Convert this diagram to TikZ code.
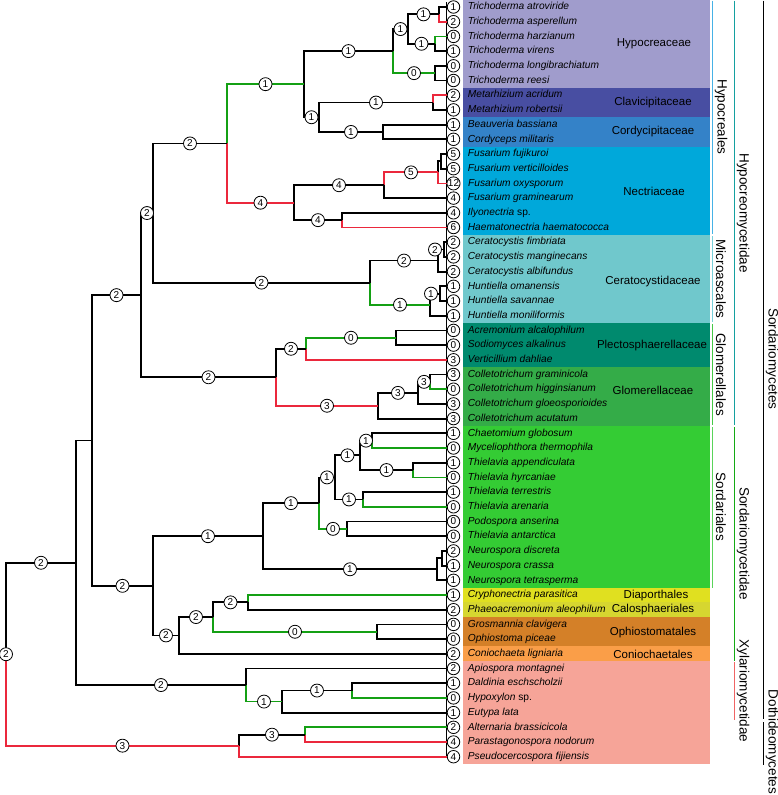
\documentclass[tikz,border=0pt]{standalone}
\usepackage{fontspec}
\setmainfont{Liberation Sans}
\usepackage{tikz}
\usetikzlibrary{positioning}

\definecolor{brgreen}{RGB}{20,160,20}
\definecolor{brred}{RGB}{235,40,60}
\definecolor{hypocol}{RGB}{160,156,204}
\definecolor{clavcol}{RGB}{72,78,162}
\definecolor{cordcol}{RGB}{52,130,200}
\definecolor{nectcol}{RGB}{0,168,218}
\definecolor{cerat}{RGB}{112,200,204}
\definecolor{plectcol}{RGB}{0,138,110}
\definecolor{glomcol}{RGB}{52,172,72}
\definecolor{sordcol}{RGB}{52,204,52}
\definecolor{diapcol}{RGB}{224,224,32}
\definecolor{calocol}{RGB}{214,214,48}
\definecolor{ophcol}{RGB}{212,128,40}
\definecolor{conicol}{RGB}{250,158,72}
\definecolor{xylcol}{RGB}{246,164,152}
\definecolor{hypoline}{RGB}{70,178,230}
\definecolor{micline}{RGB}{120,208,218}
\definecolor{glomline}{RGB}{70,200,70}
\definecolor{sordline}{RGB}{90,212,90}
\definecolor{hmline}{RGB}{20,160,160}
\definecolor{smline}{RGB}{20,170,20}
\definecolor{xmline}{RGB}{240,100,100}

\begin{document}
\begin{tikzpicture}[
    x=1pt, y=-1pt,
    branch/.style={line width=1.8pt, color=black},
    gain/.style={branch, color=brgreen},
    loss/.style={branch, color=brred},
    num/.style={circle, color=black, draw=black, text=black, fill=white, line width=0.8pt, inner sep=0pt, minimum size=13pt, font=\fontsize{10}{10}\selectfont},
    leafnum/.style={num, minimum size=12.5pt},
    taxon/.style={inner sep=0pt, text height=7.5pt, text depth=2pt, font=\fontsize{10.2}{12}\selectfont\itshape},
    family/.style={font=\fontsize{11.5}{13}\selectfont},
    rankline/.style={line width=1.6pt},
    rank/.style={rotate=-90, font=\fontsize{13.5}{15}\selectfont}
]
\useasboundingbox (0,0) rectangle (778,795);

% Family bands
\fill[hypocol] (463,0) rectangle (710,87.85);
\fill[clavcol] (463,87.85) rectangle (710,117.25);
\fill[cordcol] (463,117.25) rectangle (710,146.65);
\fill[nectcol] (463,146.65) rectangle (710,234.85);
\fill[cerat] (463,234.85) rectangle (710,323.05);
\fill[plectcol] (463,323.05) rectangle (710,367.15);
\fill[glomcol] (463,367.15) rectangle (710,425.95);
\fill[sordcol] (463,425.95) rectangle (710,587.65);
\fill[diapcol] (463,587.65) rectangle (710,602.35);
\fill[calocol] (463,602.35) rectangle (710,617.05);
\fill[ophcol] (463,617.05) rectangle (710,646.45);
\fill[conicol] (463,646.45) rectangle (710,661.15);
\fill[xylcol] (463,661.15) rectangle (710,764.05);

\node[family] (fHypo) at (654,44) {Hypocreaceae};
\node[family] (fClav) at (653,103) {Clavicipitaceae};
\node[family] (fCord) at (653,132) {Cordycipitaceae};
\node[family] (fNect) at (654,191) {Nectriaceae};
\node[family] (fCera) at (653,282) {Ceratocystidaceae};
\node[family] (fPlec) at (652,345.5) {Plectosphaerellaceae};
\node[family] (fGlom) at (653,390) {Glomerellaceae};
\node[family] (fDiap) at (656,595.5) {Diaporthales};
\node[family] (fCalo) at (653,610) {Calosphaeriales};
\node[family] (fOphi) at (653,632.5) {Ophiostomatales};
\node[family] (fConi) at (653,654) {Coniochaetales};

% Orders, subclasses, classes
\draw[rankline, hypoline] (712.5,0.5) -- (712.5,234);
\draw[rankline, micline] (712.5,236) -- (712.5,322.3);
\draw[rankline, glomline] (712.5,324) -- (712.5,425.3);
\draw[rankline, sordline] (712.5,427) -- (712.5,587.5);
\draw[rankline, hmline] (734.5,0.5) -- (734.5,425.3);
\draw[rankline, smline] (734.5,427) -- (734.5,660.5);
\draw[rankline, xmline] (734.5,662) -- (734.5,720);
\draw[rankline, black] (763.5,0.5) -- (763.5,719);
\draw[rankline, black] (763.5,722) -- (763.5,764.5);

\node[rank] (oHypo) at (721,117) {Hypocreales};
\node[rank] (oMicr) at (721,279) {Microascales};
\node[rank] (oGlom) at (721,374.5) {Glomerellales};
\node[rank] (oSord) at (721,507) {Sordariales};
\node[rank] (scHypo) at (743,213) {Hypocreomycetidae};
\node[rank] (scSord) at (743,543.5) {Sordariomycetidae};
\node[rank] (scXyla) at (743,691) {Xylariomycetidae};
\node[rank] (cSord) at (772,359) {Sordariomycetes};
\node[rank] (cDoth) at (772,742) {Dothideomycetes};

% Leaves
\coordinate (railtop) at (446.5,2);
\coordinate (railbot) at (446.5,757);
\draw[branch, line width=1.2pt] (railtop) -- (railbot);

\node[leafnum] (l1) at (453.5,7.0) {1};
\node[taxon, right=7.5pt of l1] (t1) {Trichoderma atroviride};
\node[leafnum] (l2) at (453.5,21.7) {2};
\node[taxon, right=7.5pt of l2] (t2) {Trichoderma asperellum};
\node[leafnum] (l3) at (453.5,36.4) {0};
\node[taxon, right=7.5pt of l3] (t3) {Trichoderma harzianum};
\node[leafnum] (l4) at (453.5,51.1) {1};
\node[taxon, right=7.5pt of l4] (t4) {Trichoderma virens};
\node[leafnum] (l5) at (453.5,65.8) {0};
\node[taxon, right=7.5pt of l5] (t5) {Trichoderma longibrachiatum};
\node[leafnum] (l6) at (453.5,80.5) {0};
\node[taxon, right=7.5pt of l6] (t6) {Trichoderma reesi};
\node[leafnum] (l7) at (453.5,95.2) {2};
\node[taxon, right=7.5pt of l7] (t7) {Metarhizium acridum};
\node[leafnum] (l8) at (453.5,109.9) {1};
\node[taxon, right=7.5pt of l8] (t8) {Metarhizium robertsii};
\node[leafnum] (l9) at (453.5,124.6) {1};
\node[taxon, right=7.5pt of l9] (t9) {Beauveria bassiana};
\node[leafnum] (l10) at (453.5,139.3) {1};
\node[taxon, right=7.5pt of l10] (t10) {Cordyceps militaris};
\node[leafnum] (l11) at (453.5,154.0) {5};
\node[taxon, right=7.5pt of l11] (t11) {Fusarium fujikuroi};
\node[leafnum] (l12) at (453.5,168.7) {5};
\node[taxon, right=7.5pt of l12] (t12) {Fusarium verticilloides};
\node[leafnum] (l13) at (453.5,183.4) {12};
\node[taxon, right=7.5pt of l13] (t13) {Fusarium oxysporum};
\node[leafnum] (l14) at (453.5,198.1) {4};
\node[taxon, right=7.5pt of l14] (t14) {Fusarium graminearum};
\node[leafnum] (l15) at (453.5,212.8) {4};
\node[taxon, right=7.5pt of l15] (t15) {Ilyonectria \textup{sp.}};
\node[leafnum] (l16) at (453.5,227.5) {6};
\node[taxon, right=7.5pt of l16] (t16) {Haematonectria haematococca};
\node[leafnum] (l17) at (453.5,242.2) {2};
\node[taxon, right=7.5pt of l17] (t17) {Ceratocystis fimbriata};
\node[leafnum] (l18) at (453.5,256.9) {2};
\node[taxon, right=7.5pt of l18] (t18) {Ceratocystis manginecans};
\node[leafnum] (l19) at (453.5,271.6) {2};
\node[taxon, right=7.5pt of l19] (t19) {Ceratocystis albifundus};
\node[leafnum] (l20) at (453.5,286.3) {1};
\node[taxon, right=7.5pt of l20] (t20) {Huntiella omanensis};
\node[leafnum] (l21) at (453.5,301.0) {1};
\node[taxon, right=7.5pt of l21] (t21) {Huntiella savannae};
\node[leafnum] (l22) at (453.5,315.7) {1};
\node[taxon, right=7.5pt of l22] (t22) {Huntiella moniliformis};
\node[leafnum] (l23) at (453.5,330.4) {0};
\node[taxon, right=7.5pt of l23] (t23) {Acremonium alcalophilum};
\node[leafnum] (l24) at (453.5,345.1) {0};
\node[taxon, right=7.5pt of l24] (t24) {Sodiomyces alkalinus};
\node[leafnum] (l25) at (453.5,359.8) {3};
\node[taxon, right=7.5pt of l25] (t25) {Verticillium dahliae};
\node[leafnum] (l26) at (453.5,374.5) {3};
\node[taxon, right=7.5pt of l26] (t26) {Colletotrichum graminicola};
\node[leafnum] (l27) at (453.5,389.2) {0};
\node[taxon, right=7.5pt of l27] (t27) {Colletotrichum higginsianum};
\node[leafnum] (l28) at (453.5,403.9) {3};
\node[taxon, right=7.5pt of l28] (t28) {Colletotrichum gloeosporioides};
\node[leafnum] (l29) at (453.5,418.6) {3};
\node[taxon, right=7.5pt of l29] (t29) {Colletotrichum acutatum};
\node[leafnum] (l30) at (453.5,433.3) {1};
\node[taxon, right=7.5pt of l30] (t30) {Chaetomium globosum};
\node[leafnum] (l31) at (453.5,448.0) {0};
\node[taxon, right=7.5pt of l31] (t31) {Myceliophthora thermophila};
\node[leafnum] (l32) at (453.5,462.7) {1};
\node[taxon, right=7.5pt of l32] (t32) {Thielavia appendiculata};
\node[leafnum] (l33) at (453.5,477.4) {0};
\node[taxon, right=7.5pt of l33] (t33) {Thielavia hyrcaniae};
\node[leafnum] (l34) at (453.5,492.1) {1};
\node[taxon, right=7.5pt of l34] (t34) {Thielavia terrestris};
\node[leafnum] (l35) at (453.5,506.8) {0};
\node[taxon, right=7.5pt of l35] (t35) {Thielavia arenaria};
\node[leafnum] (l36) at (453.5,521.5) {0};
\node[taxon, right=7.5pt of l36] (t36) {Podospora anserina};
\node[leafnum] (l37) at (453.5,536.2) {0};
\node[taxon, right=7.5pt of l37] (t37) {Thielavia antarctica};
\node[leafnum] (l38) at (453.5,550.9) {2};
\node[taxon, right=7.5pt of l38] (t38) {Neurospora discreta};
\node[leafnum] (l39) at (453.5,565.6) {1};
\node[taxon, right=7.5pt of l39] (t39) {Neurospora crassa};
\node[leafnum] (l40) at (453.5,580.3) {1};
\node[taxon, right=7.5pt of l40] (t40) {Neurospora tetrasperma};
\node[leafnum] (l41) at (453.5,595.0) {1};
\node[taxon, right=7.5pt of l41] (t41) {Cryphonectria parasitica};
\node[leafnum] (l42) at (453.5,609.7) {2};
\node[taxon, right=7.5pt of l42] (t42) {Phaeoacremonium aleophilum};
\node[leafnum] (l43) at (453.5,624.4) {0};
\node[taxon, right=7.5pt of l43] (t43) {Grosmannia clavigera};
\node[leafnum] (l44) at (453.5,639.1) {0};
\node[taxon, right=7.5pt of l44] (t44) {Ophiostoma piceae};
\node[leafnum] (l45) at (453.5,653.8) {2};
\node[taxon, right=7.5pt of l45] (t45) {Coniochaeta ligniaria};
\node[leafnum] (l46) at (453.5,668.5) {2};
\node[taxon, right=7.5pt of l46] (t46) {Apiospora montagnei};
\node[leafnum] (l47) at (453.5,683.2) {1};
\node[taxon, right=7.5pt of l47] (t47) {Daldinia eschscholzii};
\node[leafnum] (l48) at (453.5,697.9) {0};
\node[taxon, right=7.5pt of l48] (t48) {Hypoxylon \textup{sp.}};
\node[leafnum] (l49) at (453.5,712.6) {1};
\node[taxon, right=7.5pt of l49] (t49) {Eutypa lata};
\node[leafnum] (l50) at (453.5,727.3) {2};
\node[taxon, right=7.5pt of l50] (t50) {Alternaria brassicicola};
\node[leafnum] (l51) at (453.5,742.0) {4};
\node[taxon, right=7.5pt of l51] (t51) {Parastagonospora nodorum};
\node[leafnum] (l52) at (453.5,756.7) {4};
\node[taxon, right=7.5pt of l52] (t52) {Pseudocercospora fijiensis};

% Internal nodes: Hypocreales
\coordinate (tAA) at (439,14.35);
\coordinate (tHV) at (435,43.75);
\coordinate (tLR) at (435,73.15);
\coordinate (tAV) at (408,29.05);
\coordinate (tri) at (393,51.1);
\coordinate (met) at (433,102.55);
\coordinate (cor) at (383,131.95);
\coordinate (clacor) at (319,117.25);
\coordinate (hypc) at (304,84.18);
\coordinate (fFV) at (441,161.35);
\coordinate (fFVO) at (438,172.38);
\coordinate (fus) at (384,185.24);
\coordinate (ilh) at (342,220.15);
\coordinate (nec) at (294,202.7);
\coordinate (hyp) at (227,143.44);
% Microascales, Glomerellales
\coordinate (cFM) at (444,249.55);
\coordinate (cer) at (438,260.58);
\coordinate (hOS) at (440,293.65);
\coordinate (hun) at (430,304.68);
\coordinate (mic) at (370,282.63);
\coordinate (hypmic) at (153,213.04);
\coordinate (aS) at (396,337.75);
\coordinate (ple) at (306,348.78);
\coordinate (cGH) at (430,381.85);
\coordinate (cGHG) at (418,392.88);
\coordinate (col) at (378,405.74);
\coordinate (glo) at (276,377.26);
\coordinate (hcl) at (141,295.15);
% Sordariomycetidae
\coordinate (s1) at (372,440.65);
\coordinate (s2) at (413,470.05);
\coordinate (s12) at (360,455.35);
\coordinate (s3) at (363,499.45);
\coordinate (s123) at (335,477.4);
\coordinate (s4) at (347,528.85);
\coordinate (s1234) at (319,503.13);
\coordinate (nDC) at (442,558.25);
\coordinate (neu) at (437,569.28);
\coordinate (sor) at (263,536.2);
\coordinate (dc) at (248,602.35);
\coordinate (oph) at (377,631.75);
\coordinate (dco) at (213,617.05);
\coordinate (dcoc) at (179,635.43);
\coordinate (sdm) at (153,585.81);
\coordinate (hs) at (92,440.48);
% Xylariomycetidae, Dothideomycetes, root
\coordinate (x1) at (352,690.55);
\coordinate (x2) at (282,701.58);
\coordinate (xyl) at (246,685.04);
\coordinate (sord) at (76,562.76);
\coordinate (d1) at (305,734.65);
\coordinate (dot) at (239,745.68);
\coordinate (root) at (6,654.22);

% Branches: Hypocreales
\draw[branch] (tAA) |- (l1.west);
\draw[loss] (tAA) |- (l2.west);
\draw[gain] (tHV) |- (l3.west);
\draw[branch] (tHV) |- (l4.west);
\draw[branch] (tLR) |- (l5.west);
\draw[branch] (tLR) |- (l6.west);
\draw[branch] (tAV) |- node[num, pos=.75] {1} (tAA);
\draw[branch] (tAV) |- node[num, pos=.75] {1} (tHV);
\draw[branch] (tri) |- node[num, pos=.75] {1} (tAV);
\draw[gain] (tri) |- node[num, pos=.75] {0} (tLR);
\draw[loss] (met) |- (l7.west);
\draw[branch] (met) |- (l8.west);
\draw[branch] (cor) |- (l9.west);
\draw[branch] (cor) |- (l10.west);
\draw[branch] (clacor) |- node[num, pos=.75] {1} (met);
\draw[branch] (clacor) |- node[num, pos=.75] {1} (cor);
\draw[branch] (hypc) |- node[num, pos=.75] {1} (tri);
\draw[branch] (hypc) |- node[num, pos=.75] {1} (clacor);
\draw[branch] (fFV) |- (l11.west);
\draw[branch] (fFV) |- (l12.west);
\draw[branch] (fFVO) |- (fFV);
\draw[loss] (fFVO) |- (l13.west);
\draw[loss] (fus) |- node[num, pos=.75] {5} (fFVO);
\draw[branch] (fus) |- (l14.west);
\draw[branch] (ilh) |- (l15.west);
\draw[loss] (ilh) |- (l16.west);
\draw[branch] (nec) |- node[num, pos=.75] {4} (fus);
\draw[branch] (nec) |- node[num, pos=.75] {4} (ilh);
\draw[gain] (hyp) |- node[num, pos=.75] {1} (hypc);
\draw[loss] (hyp) |- node[num, pos=.75] {4} (nec);

% Branches: Microascales, Glomerellales
\draw[branch] (cFM) |- (l17.west);
\draw[branch] (cFM) |- (l18.west);
\draw[branch] (cer) |- node[num, pos=.75, xshift=-6pt] {2} (cFM);
\draw[branch] (cer) |- (l19.west);
\draw[branch] (hOS) |- (l20.west);
\draw[branch] (hOS) |- (l21.west);
\draw[branch] (hun) |- node[num, pos=.75, xshift=-4pt] {1} (hOS);
\draw[branch] (hun) |- (l22.west);
\draw[branch] (mic) |- node[num, pos=.75] {2} (cer);
\draw[gain] (mic) |- node[num, pos=.75] {1} (hun);
\draw[branch] (hypmic) |- node[num, pos=.75] {2} (hyp);
\draw[branch] (hypmic) |- node[num, pos=.75] {2} (mic);
\draw[branch] (aS) |- (l23.west);
\draw[branch] (aS) |- (l24.west);
\draw[gain] (ple) |- node[num, pos=.75] {0} (aS);
\draw[loss] (ple) |- (l25.west);
\draw[branch] (cGH) |- (l26.west);
\draw[gain] (cGH) |- (l27.west);
\draw[branch] (cGHG) |- node[num, pos=.75] {3} (cGH);
\draw[branch] (cGHG) |- (l28.west);
\draw[branch] (col) |- node[num, pos=.75] {3} (cGHG);
\draw[branch] (col) |- (l29.west);
\draw[branch] (glo) |- node[num, pos=.75] {2} (ple);
\draw[loss] (glo) |- node[num, pos=.75] {3} (col);
\draw[branch] (hcl) |- node[num, pos=.75] {2} (hypmic);
\draw[branch] (hcl) |- node[num, pos=.75] {2} (glo);

% Branches: Sordariomycetidae
\draw[branch] (s1) |- (l30.west);
\draw[gain] (s1) |- (l31.west);
\draw[branch] (s2) |- (l32.west);
\draw[gain] (s2) |- (l33.west);
\draw[branch] (s12) |- node[num, pos=.75] {1} (s1);
\draw[branch] (s12) |- node[num, pos=.75] {1} (s2);
\draw[branch] (s3) |- (l34.west);
\draw[gain] (s3) |- (l35.west);
\draw[branch] (s123) |- node[num, pos=.75] {1} (s12);
\draw[branch] (s123) |- node[num, pos=.75] {1} (s3);
\draw[branch] (s4) |- (l36.west);
\draw[branch] (s4) |- (l37.west);
\draw[branch] (s1234) |- node[num, pos=.75] {1} (s123);
\draw[gain] (s1234) |- node[num, pos=.75] {0} (s4);
\draw[branch] (nDC) |- (l38.west);
\draw[branch] (nDC) |- (l39.west);
\draw[branch] (neu) |- (nDC);
\draw[branch] (neu) |- (l40.west);
\draw[branch] (sor) |- node[num, pos=.75] {1} (s1234);
\draw[branch] (sor) |- node[num, pos=.75] {1} (neu);
\draw[gain] (dc) |- (l41.west);
\draw[branch] (dc) |- (l42.west);
\draw[branch] (oph) |- (l43.west);
\draw[branch] (oph) |- (l44.west);
\draw[branch] (dco) |- node[num, pos=.75] {2} (dc);
\draw[gain] (dco) |- node[num, pos=.75] {0} (oph);
\draw[branch] (dcoc) |- node[num, pos=.75] {2} (dco);
\draw[branch] (dcoc) |- (l45.west);
\draw[branch] (sdm) |- node[num, pos=.75] {1} (sor);
\draw[branch] (sdm) |- node[num, pos=.75] {2} (dcoc);
\draw[branch] (hs) |- node[num, pos=.75] {2} (hcl);
\draw[branch] (hs) |- node[num, pos=.75] {2} (sdm);

% Branches: Xylariomycetidae, Dothideomycetes, root
\draw[branch] (x1) |- (l47.west);
\draw[gain] (x1) |- (l48.west);
\draw[branch] (x2) |- node[num, pos=.75] {1} (x1);
\draw[branch] (x2) |- (l49.west);
\draw[branch] (xyl) |- (l46.west);
\draw[gain] (xyl) |- node[num, pos=.75] {1} (x2);
\draw[branch] (sord) |- (hs);
\draw[branch] (sord) |- node[num, pos=.75] {2} (xyl);
\draw[gain] (d1) |- (l50.west);
\draw[loss] (d1) |- (l51.west);
\draw[branch] (dot) |- node[num, pos=.75] {3} (d1);
\draw[loss] (dot) |- (l52.west);
\draw[branch] (root) |- node[num, pos=.75] {2} (sord);
\draw[loss] (root) |- node[num, pos=.75] {3} (dot);
\node[num] (rootlab) at (root) {2};

\end{tikzpicture}
\end{document}
